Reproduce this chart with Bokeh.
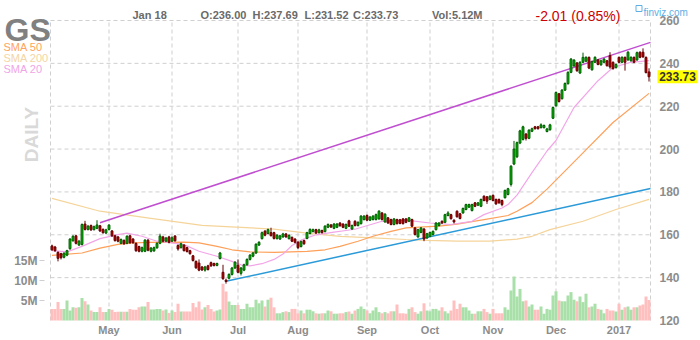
import math
import numpy as np
import pandas as pd
from bokeh.plotting import figure
from bokeh.models import Range1d, ColumnDataSource
from bokeh.core.properties import value
from bokeh.embed import file_html
from bokeh.resources import INLINE

# ---------------- data ----------------
opens = [
    154.8, 154.3, 151.8, 151.2, 149.5, 150.5, 153.5, 157.2, 159.5, 155.2,
    155.5, 165.0, 162.5, 164.3, 162.4, 163.0, 164.2, 162.5, 160.8, 162.5,
    161.8, 159.5, 159.0, 156.0, 157.4, 156.0, 159.5, 158.0, 156.0, 154.5,
    152.3, 152.3, 157.5, 152.3, 152.5, 153.9, 156.0, 159.0, 157.0, 159.0,
    157.0, 159.4, 155.0, 154.0, 155.2, 154.0, 152.6, 150.2, 147.6, 146.8,
    145.0, 143.5, 145.5, 147.0, 146.6, 145.7, 148.9, 142.5, 138.8, 139.7,
    141.5, 144.5, 145.8, 142.0, 143.5, 146.0, 148.5, 150.0, 151.5, 155.2,
    158.2, 161.7, 160.6, 161.0, 161.0, 158.2, 158.0, 159.0, 160.4, 158.2,
    158.8, 158.0, 156.5, 154.5, 157.3, 158.3, 160.6, 161.5, 162.4, 161.0,
    162.0, 161.5, 163.5, 164.6, 163.0, 163.5, 165.5, 165.0, 163.0, 166.5,
    162.7, 166.3, 164.3, 165.2, 167.1, 169.0, 166.8, 167.1, 167.1, 167.4,
    170.2, 166.0, 167.9, 167.1, 164.8, 167.1, 167.0, 167.4, 167.4, 166.3,
    167.1, 163.2, 159.0, 161.1, 162.7, 158.5, 159.3, 160.1, 162.4, 164.3,
    166.3, 165.8, 169.0, 169.4, 166.8, 171.0, 169.8, 170.2, 171.8, 172.9,
    171.3, 174.9, 173.8, 173.3, 178.0, 177.7, 176.5, 178.4, 176.5, 176.5,
    176.0, 177.3, 178.8, 183.5, 193.0, 196.4, 202.8, 204.5, 207.0, 205.0,
    208.3, 210.4, 210.4, 210.0, 210.0, 208.2, 209.0, 214.4, 220.2, 225.8,
    223.5, 227.5, 230.5, 235.8, 238.8, 240.2, 235.5, 240.5, 241.0, 242.8,
    237.0, 240.5, 241.6, 239.3, 240.5, 241.2, 243.6, 240.5, 238.0, 242.8,
    240.5, 242.8, 241.6, 241.2, 242.8, 241.6, 245.2, 245.2, 242.8, 236.00,
]
highs = [
    155.4, 154.8, 152.2, 151.6, 151.8, 153.0, 158.4, 159.8, 160.0, 157.6,
    165.3, 166.5, 164.6, 164.8, 164.3, 166.8, 164.6, 163.0, 162.8, 165.0,
    162.2, 160.0, 159.4, 158.3, 157.8, 159.8, 160.0, 158.5, 156.4, 154.9,
    154.5, 158.0, 158.0, 154.3, 154.5, 156.5, 160.5, 159.5, 159.0, 159.5,
    159.3, 159.9, 155.5, 156.3, 155.6, 154.4, 153.0, 150.6, 148.0, 148.5,
    145.4, 145.5, 146.0, 147.5, 147.0, 147.0, 152.0, 146.0, 139.5, 142.0,
    145.0, 147.7, 148.5, 145.0, 146.5, 149.0, 151.0, 152.0, 156.0, 157.0,
    161.5, 162.2, 162.9, 163.3, 161.4, 160.3, 160.0, 160.9, 160.8, 160.2,
    159.2, 158.4, 157.0, 157.3, 157.7, 161.4, 163.0, 162.9, 162.8, 162.8,
    162.4, 164.5, 165.3, 165.0, 165.5, 165.5, 165.9, 165.4, 165.3, 167.0,
    164.8, 166.8, 166.3, 169.2, 169.2, 169.5, 168.8, 169.2, 169.9, 171.5,
    170.6, 170.1, 168.3, 167.5, 167.8, 167.5, 167.4, 167.8, 167.8, 168.3,
    167.5, 163.6, 162.8, 163.6, 163.1, 160.9, 161.5, 162.0, 165.9, 165.9,
    166.7, 169.8, 171.0, 169.8, 167.2, 171.4, 170.2, 172.7, 174.5, 174.5,
    174.5, 175.3, 175.3, 176.9, 178.4, 178.1, 178.4, 178.8, 176.9, 176.9,
    176.4, 181.1, 181.9, 192.5, 203.8, 203.5, 209.0, 210.9, 207.5, 209.3,
    210.0, 210.8, 210.8, 212.0, 211.5, 209.9, 211.8, 219.9, 226.9, 226.2,
    228.0, 231.1, 236.3, 242.5, 242.0, 240.6, 241.0, 245.0, 243.3, 243.2,
    241.3, 243.3, 242.0, 241.7, 242.5, 241.6, 245.2, 240.9, 240.0, 243.2,
    243.3, 243.2, 245.7, 243.3, 243.2, 245.5, 245.6, 247.0, 243.2, 237.69,
]
lows = [
    152.5, 152.0, 147.6, 148.5, 149.0, 150.0, 153.0, 156.8, 155.5, 154.8,
    155.0, 162.0, 162.0, 161.8, 162.0, 162.6, 161.3, 160.5, 160.3, 162.0,
    159.0, 156.8, 156.5, 155.6, 155.3, 155.6, 155.8, 155.8, 152.0, 151.8,
    151.8, 151.9, 152.3, 151.8, 152.0, 153.5, 155.6, 156.5, 156.6, 156.0,
    156.6, 156.8, 152.6, 153.6, 152.2, 151.7, 150.7, 147.5, 144.1, 143.0,
    143.1, 142.8, 143.3, 145.0, 145.2, 145.3, 148.5, 139.0, 137.2, 139.2,
    141.0, 144.0, 142.0, 141.0, 143.0, 145.6, 148.0, 149.5, 151.0, 154.8,
    157.8, 159.3, 160.2, 159.2, 157.8, 157.8, 157.6, 158.6, 158.6, 157.8,
    156.6, 156.0, 153.4, 154.1, 155.3, 157.9, 160.2, 161.1, 160.4, 160.6,
    160.6, 161.1, 163.1, 163.2, 162.6, 163.1, 163.8, 163.1, 162.6, 163.6,
    162.3, 163.9, 163.9, 164.8, 166.7, 166.4, 166.4, 166.7, 166.7, 167.0,
    166.7, 165.6, 165.1, 164.4, 164.4, 164.8, 164.9, 164.8, 165.4, 165.9,
    163.6, 159.7, 158.6, 160.7, 157.0, 158.1, 158.9, 159.7, 162.0, 163.9,
    165.1, 165.4, 168.6, 167.1, 165.3, 168.0, 167.2, 169.8, 171.4, 172.5,
    170.9, 172.9, 173.4, 172.9, 175.6, 174.4, 176.1, 175.6, 174.0, 174.5,
    173.3, 176.9, 178.4, 182.5, 192.5, 195.8, 202.3, 204.0, 204.0, 204.6,
    207.9, 209.1, 209.1, 209.6, 209.6, 207.8, 208.6, 214.0, 219.8, 221.7,
    223.1, 227.1, 230.1, 235.4, 238.4, 236.0, 235.0, 240.1, 240.6, 237.3,
    236.6, 240.1, 239.1, 238.9, 240.1, 238.5, 237.5, 237.1, 237.6, 240.1,
    240.1, 236.6, 241.2, 240.8, 240.1, 241.2, 242.4, 242.6, 235.3, 231.52,
]
closes = [
    153.0, 152.6, 149.0, 149.3, 151.4, 152.6, 158.0, 159.3, 156.0, 157.0,
    164.8, 162.5, 164.0, 162.3, 163.8, 164.6, 161.8, 161.0, 162.3, 164.5,
    159.5, 157.3, 157.0, 157.8, 155.8, 159.3, 156.3, 156.3, 152.6, 152.3,
    154.0, 157.5, 152.8, 153.8, 154.0, 156.0, 159.4, 157.0, 158.5, 156.5,
    158.6, 157.2, 153.4, 155.8, 152.6, 152.2, 151.2, 148.0, 144.6, 143.5,
    143.6, 145.0, 143.8, 145.5, 145.7, 146.6, 151.5, 139.5, 138.2, 141.5,
    144.5, 147.2, 142.5, 144.5, 146.0, 148.5, 150.5, 151.5, 155.6, 156.5,
    161.0, 159.8, 162.4, 159.6, 158.3, 159.8, 159.5, 160.4, 159.0, 159.7,
    157.0, 156.5, 154.0, 156.8, 155.8, 161.0, 162.5, 162.4, 160.8, 162.3,
    161.0, 164.0, 164.8, 163.6, 165.0, 165.0, 164.2, 163.5, 164.8, 164.0,
    164.3, 164.3, 165.8, 168.7, 168.7, 166.8, 168.3, 168.7, 169.4, 171.0,
    167.1, 169.6, 165.5, 164.8, 167.4, 165.2, 165.3, 165.2, 165.8, 167.9,
    164.0, 160.1, 162.4, 163.2, 158.0, 160.5, 161.1, 161.6, 165.5, 165.5,
    165.5, 169.4, 170.2, 167.5, 166.0, 168.4, 167.6, 172.3, 174.1, 174.1,
    174.1, 173.3, 174.9, 176.5, 176.0, 175.7, 178.0, 176.0, 174.4, 174.9,
    174.1, 180.7, 181.5, 192.0, 200.0, 203.0, 208.5, 210.4, 205.0, 208.8,
    209.5, 209.5, 209.5, 211.3, 211.0, 209.4, 211.3, 219.4, 226.4, 222.2,
    227.5, 230.6, 235.8, 242.0, 241.5, 236.6, 240.5, 242.8, 242.8, 237.8,
    240.8, 242.8, 239.5, 241.2, 242.0, 238.9, 238.3, 237.5, 239.5, 240.5,
    242.8, 240.5, 245.2, 242.8, 240.5, 245.0, 242.8, 243.0, 235.7, 233.73,
]
volume_m = [
    2.9, 2.9, 4.6, 2.9, 2.9, 5.0, 2.5, 3.3, 3.2, 3.3,
    5.6, 4.8, 4.0, 2.5, 2.1, 2.1, 3.3, 2.1, 2.1, 2.9,
    2.7, 2.1, 2.2, 2.2, 2.2, 2.2, 2.9, 2.7, 2.7, 3.3,
    3.5, 3.5, 4.6, 2.75, 2.75, 2.9, 2.9, 2.5, 2.75, 1.9,
    2.5, 2.1, 4.2, 2.25, 2.25, 2.25, 2.25, 4.4, 3.3, 4.75,
    2.75, 3.3, 3.9, 2.9, 2.25, 2.5, 2.75, 9.2, 7.25, 4.75,
    3.9, 3.9, 3.9, 2.9, 2.9, 4.2, 3.3, 3.3, 5.2, 4.3,
    5.0, 3.5, 5.2, 5.7, 3.3, 1.8, 1.8, 2.1, 2.3, 2.1,
    2.9, 2.9, 1.8, 2.5, 1.8, 2.7, 2.7, 2.3, 1.8, 1.7,
    1.8, 1.8, 2.5, 2.3, 1.7, 1.7, 1.8, 1.8, 2.1, 2.25,
    1.7, 2.5, 2.9, 3.5, 2.9, 2.5, 1.8, 2.5, 3.3, 2.1,
    1.8, 2.1, 1.8, 2.3, 2.3, 4.0, 1.8, 1.8, 1.7, 2.9,
    3.3, 2.1, 1.7, 2.3, 4.3, 2.5, 2.3, 2.9, 2.9, 2.5,
    3.3, 2.3, 1.8, 2.5, 5.0, 2.9, 4.2, 3.3, 3.3, 2.5,
    1.7, 1.7, 2.3, 2.3, 2.9, 2.1, 1.7, 2.9, 1.8, 1.8,
    1.8, 3.3, 2.7, 7.5, 11.0, 6.0, 7.9, 4.8, 5.0, 3.5,
    4.0, 2.7, 2.7, 3.5, 1.7, 2.9, 2.7, 6.25, 7.3, 5.0,
    4.8, 4.8, 6.25, 7.1, 5.2, 4.8, 6.0, 4.6, 6.7, 3.3,
    3.5, 4.2, 2.9, 2.7, 1.8, 2.9, 2.5, 2.5, 2.25, 4.2,
    2.7, 3.3, 3.5, 2.7, 3.3, 3.3, 3.75, 4.0, 6.0, 5.12,
]

month_ticks = [19, 40, 62, 82, 105, 126, 147, 168, 189]
month_labels = ["May", "Jun", "Jul", "Aug", "Sep", "Oct", "Nov", "Dec", "2017"]

sma20_idx = [0, 5, 10, 16, 22, 25, 30, 35, 38, 44, 49, 55, 60, 63, 66, 70, 74, 77, 80, 83,
             88, 94, 98, 101, 110, 118, 126, 133, 140, 144, 150, 152, 155, 160, 165, 168,
             174, 182, 187, 193, 199]
sma20_val = [152.6, 152.0, 154.6, 158.2, 160.1, 160.8, 159.3, 157.0, 156.6, 155.4, 152.3,
             150.0, 147.6, 146.0, 145.5, 146.5, 148.5, 151.0, 155.0, 157.5, 160.0, 161.2,
             162.0, 162.6, 166.3, 166.8, 165.5, 164.8, 166.3, 169.4, 172.5, 174.1, 178.5,
             189.0, 199.1, 204.0, 219.4, 231.9, 238.1, 240.5, 241.3]

sma50_idx = [0, 10, 16, 22, 27, 33, 44, 49, 55, 60, 66, 74, 85, 91, 96, 102, 107, 113, 118,
             124, 129, 135, 144, 152, 155, 160, 165, 176, 187, 199]
sma50_val = [150.4, 151.5, 153.8, 155.5, 156.2, 156.5, 156.6, 156.2, 154.6, 153.0, 152.0,
             151.8, 152.3, 153.0, 154.6, 157.0, 159.3, 161.6, 163.2, 163.7, 164.0, 165.0,
             167.1, 169.0, 171.0, 175.0, 181.3, 196.8, 212.4, 226.0]

sma200_idx = [0, 16, 33, 50, 63, 74, 85, 96, 107, 118, 125, 135, 146, 155, 160, 166, 177, 188, 199]
sma200_val = [177.0, 171.0, 167.7, 164.4, 163.5, 162.6, 160.8, 159.3, 158.6, 157.8, 157.4,
              157.0, 157.0, 158.0, 159.3, 162.4, 166.3, 171.8, 176.5]

resist_idx = [16, 199.5]
resist_val = [165.6, 249.8]
support_idx = [58, 199.5]
support_val = [138.3, 181.6]

price_ticks = [120, 140, 160, 180, 200, 220, 240, 260]
price_grid = [140, 160, 180, 200, 220, 240, 260]
vol_ticks = [5, 10, 15]
vol_labels = ["5M", "10M", "15M"]

last_price = 233.73
header_items = ["Jan 18", "O:236.00", "H:237.69", "L:231.52", "C:233.73", "Vol:5.12M"]
change_text = "-2.01 (0.85%)"

# ---------------- layout geometry (pixels of the 700x340 canvas) ----------------
N = len(closes)
FX0, FX1, FY0, FY1 = 50, 650, 20, 320          # chart frame in canvas pixels
PX_PER_BAR = (FX1 - FX0) / N
P_TOP, P_BOT = 260, 120                         # price at frame top / bottom
PX_PER_USD = (FY1 - FY0) / (P_TOP - P_BOT)
PX_PER_MVOL = 4.0                               # volume scale: 4 px per 1M shares

def sx(px):
    return -0.5 + (px - FX0) / PX_PER_BAR

def sy(py):
    return P_TOP - (py - FY0) / PX_PER_USD

def sv(py):
    return (FY1 - py) / PX_PER_MVOL

FONT = value("Liberation Sans")

p = figure(width=700, height=340,
           x_range=Range1d(sx(0), sx(700)), y_range=Range1d(sy(340), sy(0)),
           output_backend="svg", toolbar_location=None,
           x_axis_location=None, y_axis_location=None,
           min_border=0, min_border_left=0, min_border_right=0,
           min_border_top=0, min_border_bottom=0)
p.outline_line_color = None
p.background_fill_color = "white"
p.border_fill_color = "white"
p.xgrid.visible = False
p.ygrid.visible = False
p.extra_y_ranges = {"vol": Range1d(sv(340), sv(0))}

# ---------------- grid (dashed) ----------------
GRID = "#cfcfcf"
vx = [sx(FX0)] + month_ticks + [sx(FX1)]
p.segment(x0=vx, x1=vx, y0=[P_BOT] * len(vx), y1=[P_TOP] * len(vx),
          line_color=GRID, line_dash="4 3", line_width=1)
p.segment(x0=[sx(FX0)] * len(price_grid), x1=[sx(FX1)] * len(price_grid),
          y0=price_grid, y1=price_grid, line_color=GRID, line_dash="4 3", line_width=1)

# ---------------- data source ----------------
df = pd.DataFrame({"i": np.arange(N), "o": opens, "h": highs, "l": lows, "c": closes,
                   "v": volume_m})
up = df["c"] >= df["o"]
df["vcol"] = np.where(up, "#a9e0a9", "#ffbfbf")
df["fill"] = np.where(up, "#00cc00", "#c80000")
df["edge"] = np.where(up, "#005a00", "#640000")
df["top"] = np.maximum(df["o"], df["c"])
df["bot"] = np.minimum(df["o"], df["c"])
src = ColumnDataSource(df)

# volume bars
p.vbar(x="i", top="v", bottom=0, width=1.0, y_range_name="vol", source=src,
       fill_color="vcol", line_color=None)

# moving averages
p.line(sma200_idx, sma200_val, line_color="#f5d49a", line_width=1.2)
p.line(sma50_idx, sma50_val, line_color="#ffa05a", line_width=1.2)
p.line(sma20_idx, sma20_val, line_color="#f2a6e8", line_width=1.2)

# trend lines
p.line(resist_idx, resist_val, line_color="#c04fd0", line_width=1.5)
p.line(support_idx, support_val, line_color="#2b9ad8", line_width=1.5)

# candles
p.segment(x0="i", y0="h", x1="i", y1="l", source=src, line_color="edge", line_width=1)
p.vbar(x="i", top="top", bottom="bot", width=0.62, source=src,
       fill_color="fill", line_color="edge", line_width=1)

# ---------------- axis labels (placed with the chart scales) ----------------
AX = "#8c8c8c"
p.text(x=month_ticks, y=[sy(329.5)] * len(month_ticks), text=month_labels,
       text_font=FONT, text_font_size="11px", text_font_style="bold",
       text_color=AX, text_align="center", text_baseline="middle")
p.text(x=[sx(659)] * len(price_ticks), y=price_ticks, text=[str(t) for t in price_ticks],
       text_font=FONT, text_font_size="12px", text_font_style="bold",
       text_color=AX, text_align="left", text_baseline="middle")
p.text(x=[sx(37)] * len(vol_ticks), y=vol_ticks, text=vol_labels, y_range_name="vol",
       text_font=FONT, text_font_size="12px", text_font_style="bold",
       text_color=AX, text_align="right", text_baseline="middle")
p.segment(x0=[sx(39)] * len(vol_ticks), x1=[sx(44)] * len(vol_ticks),
          y0=vol_ticks, y1=vol_ticks, y_range_name="vol", line_color=GRID, line_width=1)

# last price marker
p.quad(left=[sx(657)], right=[sx(697)],
       bottom=[last_price - 6.5 / PX_PER_USD], top=[last_price + 6.5 / PX_PER_USD],
       fill_color="#ffff00", line_color=None)
p.text(x=[sx(677)], y=[last_price], text=[f"{last_price:.2f}"],
       text_font=FONT, text_font_size="12px", text_font_style="bold",
       text_color="#333333", text_align="center", text_baseline="middle")

# ---------------- header texts ----------------
def put(text, px, py, size, color, style="normal", align="left", baseline="alphabetic",
        angle=0.0):
    p.text(x=[sx(px)], y=[sy(py)], text=[text], text_font=FONT, text_font_size=size,
           text_color=color, text_font_style=style, text_align=align,
           text_baseline=baseline, angle=angle)

put("GS", 4, 29, "32px", "#808080", style="bold")
put("SMA 50", 3, 46.5, "11px", "#ffa35c")
put("SMA 200", 3, 57.5, "11px", "#f3d6a4")
put("SMA 20", 3, 68.5, "11px", "#f0a6e6")
put("DAILY", 31, 134, "19px", "#d9d9d9", style="bold", align="center",
    baseline="middle", angle=math.pi / 2)
for txt, px in zip(header_items, [132, 200, 252, 304, 352.5, 431.5]):
    put(txt, px, 14, "11px", "#6a6a6a", style="bold")
put(change_text, 535, 15, "14px", "#cc0000")
put("finviz.com", 643, 11.5, "10px", "#5cb0e6")
p.rect(x=[sx(638.5)], y=[sy(8)], width=6 / PX_PER_BAR, height=6 / PX_PER_USD,
       fill_color=None, line_color="#5cb0e6", line_width=1)

open("out.html", "w").write(file_html(p, INLINE))
